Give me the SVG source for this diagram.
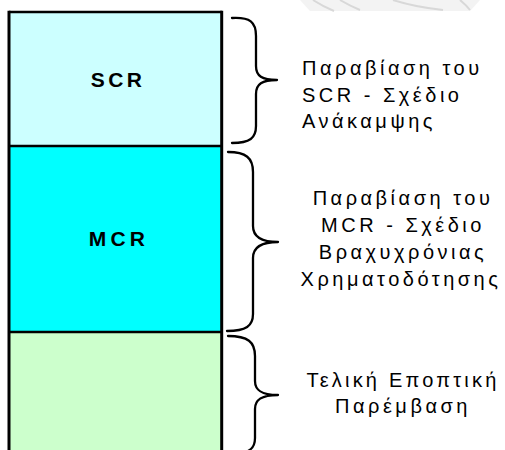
<svg xmlns="http://www.w3.org/2000/svg" width="505" height="450" viewBox="0 0 505 450">
  <style>
    .frame { stroke: #000; stroke-width: 2.5; }
    .label { font-family: "Liberation Sans", Arial, sans-serif; font-weight: bold; font-size: 21px; letter-spacing: 3.4px; fill: #000; text-anchor: middle; }
    .note { font-family: "Liberation Sans", Arial, sans-serif; font-size: 20px; letter-spacing: 3.5px; fill: #000; }
    .brace { fill: none; stroke: #000; stroke-width: 2.3; stroke-linecap: round; stroke-linejoin: round; }
    .swoosh { fill: none; stroke: #d8d8d8; stroke-width: 2; }
  </style>
  <rect width="505" height="450" fill="#ffffff"/>

  <!-- faint background swooshes along the top edge -->
  <g id="backdrop">
    <path d="M300,0 L480,0 L470,11 L310,11 Z" fill="#f3f3f3"/>
    <path class="swoosh" d="M313,0 Q322,6 334,11"/>
    <path class="swoosh" d="M340,0 Q350,6 360,10"/>
    <path class="swoosh" d="M393,0 Q415,7 443,10"/>
    <path class="swoosh" d="M460,0 Q466,5 470,10"/>
  </g>

  <!-- stacked blocks -->
  <g id="scr">
    <rect x="9" y="12" width="213" height="134" fill="#ccffff"/>
    <text class="label" x="118" y="87">SCR</text>
  </g>
  <g id="mcr">
    <rect x="9" y="146" width="213" height="186" fill="#00ffff"/>
    <text class="label" x="119" y="246" style="letter-spacing:4.2px">MCR</text>
  </g>
  <g id="final">
    <rect x="9" y="332" width="213" height="130" fill="#ccffcc"/>
  </g>
  <g id="frame" class="frame" fill="none">
    <line x1="9" y1="12" x2="222" y2="12"/>
    <line x1="9" y1="10.8" x2="9" y2="452" stroke-width="3"/>
    <line x1="221.7" y1="10.8" x2="221.7" y2="452" stroke-width="3"/>
    <line x1="9" y1="146" x2="222" y2="146"/>
    <line x1="9" y1="332" x2="222" y2="332"/>
  </g>

  <!-- braces -->
  <g id="connectors">
    <path class="brace" d="M232,18 C250,17 256,22 256,36 L256,66 C256,76 262,80 277,80 C262,80 256,84 256,94 L256,126 C256,138 250,143 232,143"/>
    <path class="brace" d="M228,152 C246,152 253,158 253,172 L253,226 C253,236 260,242 278,242 C260,242 253,248 253,258 L253,314 C253,326 246,331 227,331"/>
    <path class="brace" d="M228,336 C248,336 255,342 255,356 L255,381 C255,390 261,395 278,395 C261,395 255,400 255,409 L255,438 C255,448 250,452 240,453"/>
  </g>

  <!-- captions -->
  <g id="caption-scr" class="note">
    <text x="302" y="75">Παραβίαση του</text>
    <text x="302" y="102">SCR - Σχέδιο</text>
    <text x="302" y="128">Ανάκαμψης</text>
  </g>
  <g id="caption-mcr" class="note" text-anchor="middle">
    <text x="403" y="205">Παραβίαση του</text>
    <text x="403" y="232">MCR - Σχέδιο</text>
    <text x="403" y="259">Βραχυχρόνιας</text>
    <text x="401" y="286">Χρηματοδότησης</text>
  </g>
  <g id="caption-final" class="note" text-anchor="middle">
    <text x="403" y="387" style="letter-spacing:3.2px">Τελική Εποπτική</text>
    <text x="403" y="413">Παρέμβαση</text>
  </g>
</svg>
